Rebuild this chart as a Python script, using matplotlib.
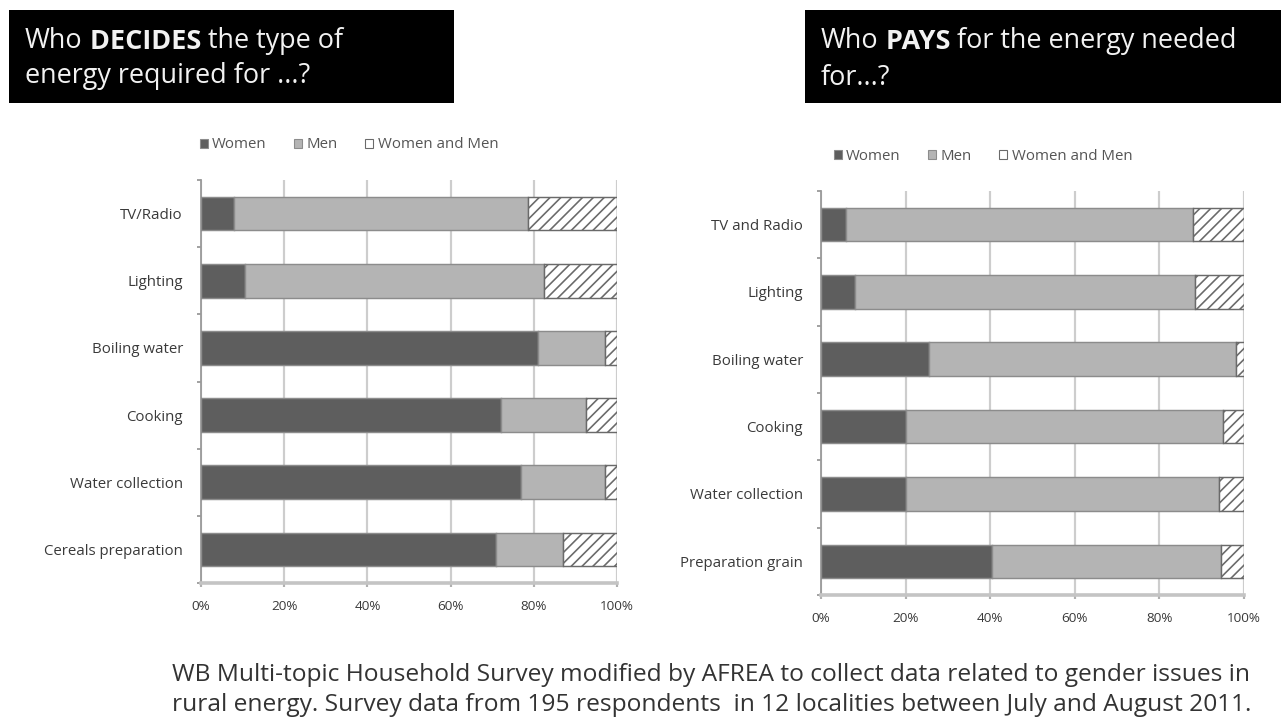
import matplotlib
matplotlib.use("Agg")
import matplotlib.pyplot as plt
from matplotlib.patches import Rectangle, Patch
import numpy as np

# --- data ---------------------------------------------------------------
decide_categories = ["TV/Radio", "Lighting", "Boiling water", "Cooking",
                     "Water collection", "Cereals preparation"]
decide_women = [8, 10.5, 81, 72, 77, 71]
decide_men = [70.5, 72, 16, 20.5, 20, 16]
decide_both = [21.5, 17.5, 3, 7.5, 3, 13]

pay_categories = ["TV and Radio", "Lighting", "Boiling water", "Cooking",
                  "Water collection", "Preparation grain"]
pay_women = [6, 8, 25.5, 20, 20, 40.5]
pay_men = [82, 80.5, 72.5, 75, 74, 54]
pay_both = [12, 11.5, 2, 5, 6, 5.5]

series_names = ["Women", "Men", "Women and Men"]
x_ticks = [0, 20, 40, 60, 80, 100]
x_ticklabels = ["0%", "20%", "40%", "60%", "80%", "100%"]

title_left = [("Who", "normal"), (" DECIDES", "bold"), (" the type of", "normal")]
title_left_2 = "energy required for ...?"
title_right = [("Who", "normal"), (" PAYS", "bold"), (" for the energy needed", "normal")]
title_right_2 = "for...?"
footer_1 = ("WB Multi-topic Household Survey modified by AFREA to collect data "
            "related to gender issues in")
footer_2 = ("rural energy. Survey data from 195 respondents  in 12 localities "
            "between July and August 2011.")

# --- styling ------------------------------------------------------------
DPI = 130
W, H = 1281, 721
FONT = ["Open Sans", "DejaVu Sans"]
plt.rcParams["font.family"] = FONT
plt.rcParams["hatch.linewidth"] = 0.9


def pt(px):
    return px * 72.0 / DPI


C_WOMEN = "#5e5e5e"
C_MEN = "#b4b4b4"
C_EDGE = "#8c8c8c"
C_HATCH = "#6a6a6a"
C_GRID = "#cdcdcd"
C_TEXT = "#3a3a3a"

fig = plt.figure(figsize=(W / DPI, H / DPI), dpi=DPI)
fig.patch.set_facecolor("white")


def axes_px(x0, y0, x1, y1):
    return fig.add_axes([x0 / W, 1 - y1 / H, (x1 - x0) / W, (y1 - y0) / H])


def draw_panel(ax, cats, women, men, both):
    y = np.arange(len(cats))
    women = np.asarray(women, float)
    men = np.asarray(men, float)
    both = np.asarray(both, float)
    h = 0.5
    ax.barh(y, women, height=h, color=C_WOMEN, edgecolor=C_EDGE, linewidth=0.8, zorder=3)
    ax.barh(y, men, left=women, height=h, color=C_MEN, edgecolor=C_EDGE,
            linewidth=0.8, zorder=3)
    ax.barh(y, both, left=women + men, height=h, color="white", edgecolor=C_HATCH,
            hatch="////", linewidth=0.8, zorder=3)
    ax.set_xlim(0, 100)
    ax.set_ylim(len(cats) - 0.5, -0.5)
    ax.set_xticks(x_ticks)
    ax.set_xticklabels(x_ticklabels, fontsize=pt(13.5), color=C_TEXT)
    ax.set_yticks(y)
    ax.set_yticklabels(cats, fontsize=pt(15), color=C_TEXT)
    ax.set_yticks(np.arange(len(cats) + 1) - 0.5, minor=True)
    ax.tick_params(axis="y", which="major", length=0, pad=pt(18))
    ax.tick_params(axis="y", which="minor", length=pt(4), color="#9a9a9a", width=1)
    ax.tick_params(axis="x", which="major", length=pt(4), color="#b0b0b0", width=1.2,
                   pad=pt(13))
    ax.grid(axis="x", color=C_GRID, linewidth=1.2, zorder=0)
    for s in ("top", "right"):
        ax.spines[s].set_visible(False)
    ax.spines["left"].set_color("#9a9a9a")
    ax.spines["left"].set_linewidth(1.0)
    ax.spines["bottom"].set_color("#c4c4c4")
    ax.spines["bottom"].set_linewidth(2.0)
    ax.set_axisbelow(True)


ax_l = axes_px(201, 180, 617, 583)
draw_panel(ax_l, decide_categories, decide_women, decide_men, decide_both)
ax_r = axes_px(821, 191, 1244, 595)
draw_panel(ax_r, pay_categories, pay_women, pay_men, pay_both)

# legends
handles = [Patch(facecolor=C_WOMEN, edgecolor=C_EDGE, linewidth=0.6),
           Patch(facecolor=C_MEN, edgecolor=C_EDGE, linewidth=0.6),
           Patch(facecolor="white", edgecolor=C_HATCH, linewidth=0.6)]
for x0, yc in ((192, 145), (826, 156)):
    fig.legend(handles, series_names, loc="center left",
               bbox_to_anchor=(x0 / W, 1 - yc / H), ncol=3, frameon=False,
               fontsize=pt(15), handlelength=0.55, handleheight=0.55,
               handletextpad=0.3, columnspacing=1.8, borderpad=0,
               labelcolor="#555555")

# overlay in pixel coordinates for title boxes and footer
ov = fig.add_axes([0, 0, 1, 1], zorder=5)
ov.set_xlim(0, W)
ov.set_ylim(H, 0)
ov.axis("off")

ov.add_patch(Rectangle((9, 10), 445, 93, facecolor="black", edgecolor="none"))
ov.add_patch(Rectangle((805, 10), 476, 93, facecolor="black", edgecolor="none"))

TITLE_PX = 27


def rich_line(x, y, pieces, size, color):
    prev = None
    for txt, weight in pieces:
        if prev is None:
            prev = ov.text(x, y, txt, fontsize=pt(size), fontweight=weight,
                           color=color, ha="left", va="baseline")
        else:
            prev = ov.annotate(txt, xy=(1, 0), xycoords=prev, fontsize=pt(size),
                               fontweight=weight, color=color, ha="left",
                               va="bottom")
    return prev


rich_line(25, 48, title_left, TITLE_PX, "#f2f2f2")
ov.text(25, 83, title_left_2, fontsize=pt(TITLE_PX), color="#f2f2f2",
        ha="left", va="baseline")
rich_line(821, 48, title_right, TITLE_PX, "#f2f2f2")
ov.text(821, 85, title_right_2, fontsize=pt(TITLE_PX), color="#f2f2f2",
        ha="left", va="baseline")

ov.text(172, 681, footer_1, fontsize=pt(24.5), color="#333333", ha="left",
        va="baseline")
ov.text(172, 711, footer_2, fontsize=pt(24.5), color="#333333", ha="left",
        va="baseline")

fig.savefig("out.png", dpi=DPI, facecolor="white")
